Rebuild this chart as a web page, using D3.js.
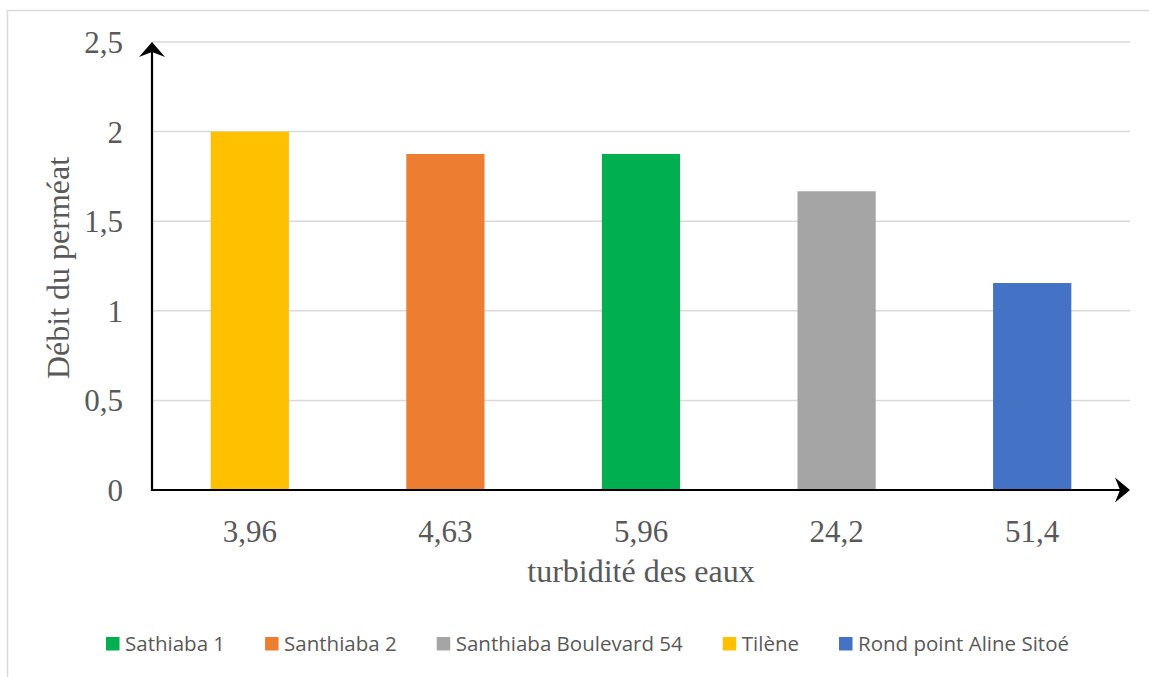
<!DOCTYPE html>
<html>
<head>
<meta charset="utf-8">
<script src="https://cdn.jsdelivr.net/npm/d3@7"></script>
<style>
  html, body { margin: 0; padding: 0; background: #ffffff; }
  svg { display: block; }
</style>
</head>
<body>
<svg id="chart" width="1149" height="677"></svg>
<script>
// ---- data ----
const categories = ["3,96", "4,63", "5,96", "24,2", "51,4"];
const sites = ["Tilène", "Santhiaba 2", "Sathiaba 1", "Santhiaba Boulevard 54", "Rond point Aline Sitoé"];
const values = [2.0, 1.875, 1.875, 1.667, 1.155];
const yTicks = [0, 0.5, 1, 1.5, 2, 2.5];
const legendOrder = ["Sathiaba 1", "Santhiaba 2", "Santhiaba Boulevard 54", "Tilène", "Rond point Aline Sitoé"];
const siteColors = {
  "Tilène": "#FFC000",
  "Santhiaba 2": "#ED7D31",
  "Sathiaba 1": "#00B050",
  "Santhiaba Boulevard 54": "#A5A5A5",
  "Rond point Aline Sitoé": "#4472C4"
};
const xTitle = "turbidité des eaux";
const yTitle = "Débit du perméat";

// ---- layout ----
const svg = d3.select("#chart");
const plotLeft = 152, plotRight = 1130, plotTop = 42, plotBottom = 490;
const textColor = "#595959";
const serif = "'Liberation Serif', 'Times New Roman', serif";

// chart border
svg.append("rect")
  .attr("x", 7.5).attr("y", 10.5)
  .attr("width", 1200).attr("height", 720)
  .attr("fill", "none").attr("stroke", "#D9D9D9").attr("stroke-width", 1.5);

const x = d3.scaleBand().domain(categories).range([plotLeft, plotRight])
  .paddingInner(0.6).paddingOuter(0.3);
const y = d3.scaleLinear().domain([0, 2.5]).range([plotBottom, plotTop]);

// gridlines
svg.append("g").selectAll("line").data(yTicks.filter(d => d > 0)).join("line")
  .attr("x1", plotLeft).attr("x2", plotRight)
  .attr("y1", d => y(d)).attr("y2", d => y(d))
  .attr("stroke", "#D9D9D9").attr("stroke-width", 1.5);

// bars
svg.append("g").selectAll("rect").data(categories).join("rect")
  .attr("x", d => x(d))
  .attr("width", x.bandwidth())
  .attr("y", (d, i) => y(values[i]))
  .attr("height", (d, i) => y(0) - y(values[i]))
  .attr("fill", (d, i) => siteColors[sites[i]]);

// y axis (labels via d3 axis)
const yAxis = d3.axisLeft(y).tickValues(yTicks)
  .tickFormat(d => String(d).replace(".", ","))
  .tickSize(0).tickPadding(29);
const gy = svg.append("g").attr("transform", `translate(${plotLeft},0)`).call(yAxis);
gy.select(".domain").remove();
gy.selectAll("text")
  .attr("fill", textColor)
  .style("font-family", serif).style("font-size", "31px")
  .attr("dy", "0.34em");

// x axis labels
const xAxis = d3.axisBottom(x).tickSize(0).tickPadding(30);
const gx = svg.append("g").attr("transform", `translate(0,${plotBottom})`).call(xAxis);
gx.select(".domain").remove();
gx.selectAll("text")
  .attr("fill", textColor)
  .style("font-family", serif).style("font-size", "31px")
  .attr("dy", "0.72em");

// axis lines with arrows
svg.append("line")
  .attr("x1", plotLeft).attr("x2", plotLeft).attr("y1", plotBottom + 1).attr("y2", plotTop + 8)
  .attr("stroke", "#000").attr("stroke-width", 2.2);
svg.append("path")
  .attr("d", `M${plotLeft},${plotTop} L${plotLeft + 13},${plotTop + 15} L${plotLeft},${plotTop + 10} L${plotLeft - 13},${plotTop + 15} Z`)
  .attr("fill", "#000");
svg.append("line")
  .attr("x1", plotLeft - 1).attr("x2", plotRight - 8).attr("y1", plotBottom).attr("y2", plotBottom)
  .attr("stroke", "#000").attr("stroke-width", 2.2);
svg.append("path")
  .attr("d", `M${plotRight},${plotBottom} L${plotRight - 15},${plotBottom + 12.5} L${plotRight - 10},${plotBottom} L${plotRight - 15},${plotBottom - 12.5} Z`)
  .attr("fill", "#000");

// axis titles
svg.append("text")
  .attr("x", (plotLeft + plotRight) / 2).attr("y", 582)
  .attr("text-anchor", "middle")
  .attr("fill", textColor)
  .style("font-family", serif).style("font-size", "32px")
  .text(xTitle);
svg.append("text")
  .attr("transform", "translate(69,268) rotate(-90)")
  .attr("text-anchor", "middle")
  .attr("fill", textColor)
  .style("font-family", serif).style("font-size", "32px")
  .text(yTitle);

// legend
const legend = svg.append("g");
const items = legend.selectAll("g").data(legendOrder).join("g");
items.append("rect")
  .attr("width", 13.5).attr("height", 13.5)
  .attr("y", -14)
  .attr("fill", d => siteColors[d]);
items.append("text")
  .attr("x", 19)
  .attr("fill", textColor)
  .style("font-family", "'Open Sans', 'Noto Sans', sans-serif")
  .style("font-size", "20.5px")
  .text(d => d);
let cx = 0;
const gap = 40;
items.each(function() {
  const g = d3.select(this);
  const w = 19 + g.select("text").node().getComputedTextLength();
  g.attr("transform", `translate(${cx},651)`);
  cx += w + gap;
});
const total = cx - gap;
legend.attr("transform", `translate(${587.5 - total / 2},0)`);
</script>
</body>
</html>
